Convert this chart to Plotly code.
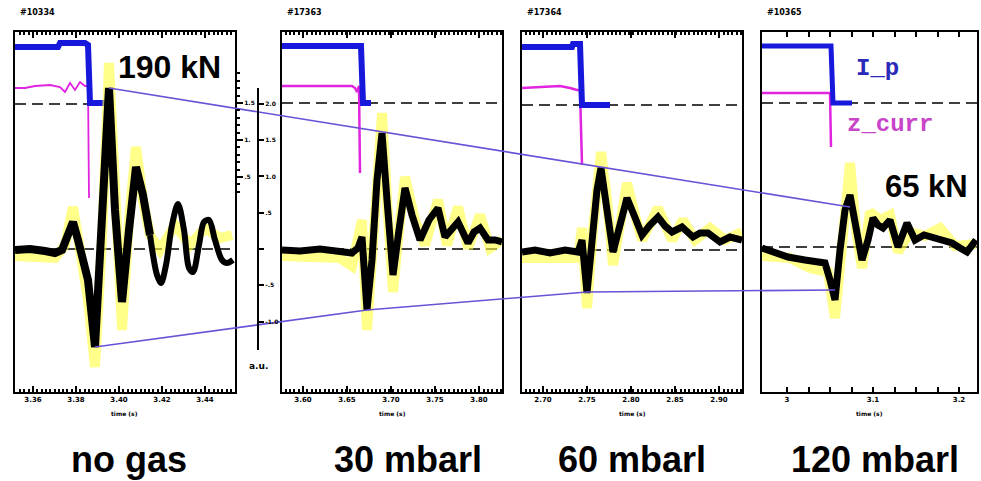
import plotly.graph_objects as go

W, H = 981, 481

# ---------------- data ----------------
conditions = ["no gas", "30 mbarl", "60 mbarl", "120 mbarl"]
shot_ids = ["#10334", "#17363", "#17364", "#10365"]
peak_labels = ["190 kN", "65 kN"]

# vertical force (black), time in ms from window start, value in a.u.
force_t = [
    [0, 15, 30, 40, 47, 53, 58, 63, 67, 73, 80, 85, 89, 94, 100, 107, 114, 121, 128, 135],
    [0, 18, 38, 58, 70, 76, 80, 85, 90, 95, 100, 105, 111, 117, 123, 130, 138, 147, 156, 163, 170, 176, 186, 192, 198, 206, 213, 220],
    [0, 13, 28, 43, 56, 60, 65, 70, 75, 79, 84, 91, 98, 105, 112, 120, 128, 136, 143, 150, 160, 171, 178, 186, 198, 208, 220],
    [0, 13, 26, 43, 53, 63, 68, 73, 78, 83, 88, 94, 100, 106, 111, 116, 121, 128, 136, 145, 153, 162, 170, 180, 190, 198, 205, 214],
]
force_v = [
    [-1, 0, -2, -4, -1, 14, 27, 9, -9, -31, -98, 0, 89, 161, 39, -53, 19, 82, 54, 14],
    [-1, -2, 0, -3, -4, 1, 12, -61, -11, 69, 116, 49, -26, 19, 61, 34, 9, 29, 41, 12, 21, 27, 6, 17, 21, 9, 9, 7],
    [-3, -1, -4, -1, -3, 9, -44, 9, 59, 81, 49, -3, 24, 51, 34, 14, 24, 32, 23, 17, 22, 12, 16, 16, 7, 12, 9],
    [1, -3, -8, -11, -13, -14, -31, -51, -1, 39, 54, 19, -11, 9, 31, 24, 21, 29, 2, 26, 9, 14, 12, 9, 6, 1, -3, 9],
]
# hand-drawn continuation in the first panel
sketch_t = [135, 142, 146, 151, 157, 163, 169, 174, 178, 184, 189, 194, 200, 207, 212, 218]
sketch_v = [14, -26, -34, -16, 24, 45, 19, -19, -23, 4, 27, 29, 9, -11, -14, -11]

# second (yellow) force signal
halo_t = [
    [0, 25, 40, 50, 58, 65, 73, 80, 87, 94, 101, 107, 114, 121, 128, 135, 145, 160, 175, 190, 205, 217],
    [0, 28, 58, 70, 76, 80, 85, 90, 95, 100, 105, 111, 117, 123, 133, 143, 156, 165, 176, 186, 198, 208, 220],
    [0, 28, 56, 60, 65, 71, 79, 85, 91, 98, 105, 113, 120, 136, 150, 161, 173, 188, 203, 220],
    [0, 28, 48, 66, 73, 80, 88, 94, 100, 108, 118, 128, 136, 148, 163, 178, 193, 214],
]
halo_v = [
    [-7, -7, -9, 4, 42, -1, -51, -118, 9, 186, 29, -81, 29, 102, 49, 14, -1, 24, 4, 21, 11, 14],
    [-7, -7, -9, -17, 9, 29, -81, -11, 74, 136, 49, -43, 19, 72, 29, 4, 49, 4, 42, 1, 34, 1, 9],
    [-9, -9, -9, 21, -59, 19, 97, 49, -16, 24, 66, 34, 9, 41, 9, 29, 9, 21, 9, 17],
    [-7, -9, -19, -23, -69, 9, 86, 19, -19, 37, 29, 34, -3, 17, 13, 21, 3, 5],
]

# plasma current I_p (blue)
ip_t = [[0, 43, 45, 70, 73, 75, 90], [0, 79, 81, 89], [0, 50, 51, 58, 60, 88], [0, 69, 71, 90]]
ip_v = [[202, 202, 206, 206, 204, 146, 146], [203, 203, 146, 146], [202, 202, 205, 205, 144, 144], [203, 203, 146, 146]]

# vertical current centroid z_curr (magenta)
zc_t = [[0, 10, 20, 35, 45, 50, 55, 60, 65, 70, 73, 74], [0, 70, 73, 75, 77, 78], [0, 38, 48, 55, 58, 60], [0, 68, 69]]
zc_v = [[161, 161, 163, 164, 162, 157, 166, 159, 167, 163, 163, 51], [163, 163, 161, 157, 163, 76],
        [161, 163, 161, 159, 159, 84], [156, 156, 102]]

# reference levels (dashed)
upper_ref = [145, 146, 144, 146]
upper_ref_end = [80, 220, 220, 215]
lower_ref = [0, 0, -1, 2]

# envelope lines joining the extremes (panel, time, value)
env_top_t = [94, 100, 79, 88]
env_top_v = [161, 117, 82, 42]
env_bot_t = [80, 85, 65, 73]
env_bot_v = [-98, -61, -43, -41]

tick_vals = [[18, 61, 104, 147, 190], [21, 65, 109, 153, 197], [21, 65, 109, 153, 197],
             [25, 47, 68, 90, 111, 133, 154, 176, 197]]
tick_text = [["3.36", "3.38", "3.40", "3.42", "3.44"], ["3.60", "3.65", "3.70", "3.75", "3.80"],
             ["2.70", "2.75", "2.80", "2.85", "2.90"], ["3", "", "", "", "3.1", "", "", "", "3.2"]]

au_vals = [-1, -0.5, 0, 0.5, 1, 1.5, 2]
au_text = ["-1.0", "-.5", "", ".5", "1.0", "1.5", "2.0"]
ipax_vals = [0.5, 1.0, 1.5]
ipax_text = [".5", "1.", "1.5"]

# ---------------- layout geometry ----------------
PANEL_PX = [(15, 235), (282, 502), (522, 742), (762, 977)]
TOP_PX, BOT_PX = 32, 392
Y_RANGE = [-143, 217]
X_RANGES = [[0, r - l] for l, r in PANEL_PX]

BLACK = "#000000"
BLUE = "#1818dc"
MAGENTA = "#e024e0"
PURPLE = "#6a52d6"
YELLOW = "rgba(255,255,60,0.6)"


def to_px(i, t, v):
    l, r = PANEL_PX[i]
    x0, x1 = X_RANGES[i]
    px = l + (t - x0) / (x1 - x0) * (r - l)
    py = BOT_PX - (v - Y_RANGE[0]) / (Y_RANGE[1] - Y_RANGE[0]) * (BOT_PX - TOP_PX)
    return px, py


fig = go.Figure()


def ax(i):
    return ("x", "y") if i == 0 else (f"x{i+1}", f"y{i+1}")


for i in range(4):
    xa, ya = ax(i)
    common = dict(xaxis=xa, yaxis=ya, mode="lines", showlegend=False, hoverinfo="skip")
    fig.add_trace(go.Scatter(x=[0, upper_ref_end[i]], y=[upper_ref[i]] * 2,
                             line=dict(color=BLACK, width=1.6, dash="11px,6px"), **common))
    fig.add_trace(go.Scatter(x=[0, X_RANGES[i][1]], y=[lower_ref[i]] * 2,
                             line=dict(color=BLACK, width=1.6, dash="11px,6px"), **common))
    fig.add_trace(go.Scatter(x=zc_t[i], y=zc_v[i], line=dict(color=MAGENTA, width=2.5 if i else 1.8), **common))
    fig.add_trace(go.Scatter(x=ip_t[i], y=ip_v[i], line=dict(color=BLUE, width=6 if i < 3 else 5), **common))
    fig.add_trace(go.Scatter(x=halo_t[i], y=halo_v[i], line=dict(color=YELLOW, width=10), **common))
    fig.add_trace(go.Scatter(x=force_t[i], y=force_v[i], line=dict(color=BLACK, width=8 if i == 0 else 7), **common))
    if i == 0:
        fig.add_trace(go.Scatter(x=sketch_t, y=sketch_v, line=dict(color=BLACK, width=6, shape="spline", smoothing=0.9),
                                 **common))

# envelope lines on a full-page overlay axis
top_px = [to_px(i, t, v) for i, (t, v) in enumerate(zip(env_top_t, env_top_v))]
bot_px = [to_px(i, t, v) for i, (t, v) in enumerate(zip(env_bot_t, env_bot_v))]
for pts in (top_px, bot_px):
    fig.add_trace(go.Scatter(x=[p[0] for p in pts], y=[p[1] for p in pts], xaxis="x5", yaxis="y5",
                             mode="lines", line=dict(color=PURPLE, width=1.6), showlegend=False, hoverinfo="skip"))

# dummy traces for the free-standing axes
for k, yv in ((6, 0.5), (7, 1.0)):
    fig.add_trace(go.Scatter(x=[0], y=[yv], xaxis=f"x{k}", yaxis=f"y{k}", mode="markers",
                             marker=dict(opacity=0), showlegend=False, hoverinfo="skip"))

layout = dict(width=W, height=H, margin=dict(l=0, r=0, t=0, b=0, pad=0),
              paper_bgcolor="white", plot_bgcolor="rgba(0,0,0,0)", showlegend=False)
ydom = [1 - BOT_PX / H, 1 - TOP_PX / H]
for i in range(4):
    l, r = PANEL_PX[i]
    kx = "xaxis" if i == 0 else f"xaxis{i+1}"
    ky = "yaxis" if i == 0 else f"yaxis{i+1}"
    xa, ya = ax(i)
    minor = dict(ticks="inside", ticklen=3, tickcolor=BLACK, tick0=tick_vals[i][0], dtick=4.3) if i < 3 else None
    xd = dict(domain=[l / W, r / W], range=X_RANGES[i], anchor=ya, showline=True, linecolor=BLACK, linewidth=2,
              mirror="ticks", ticks="inside", ticklen=6 if i < 3 else 5, tickwidth=1.5, tickcolor=BLACK,
              tickmode="array", tickvals=tick_vals[i], ticktext=tick_text[i],
              tickfont=dict(size=7, color=BLACK, family="DejaVu Sans", weight="bold"),
              showgrid=False, zeroline=False, fixedrange=True)
    if minor:
        xd["minor"] = minor
    layout[kx] = xd
    layout[ky] = dict(domain=ydom, range=Y_RANGE, anchor=xa, showline=True, linecolor=BLACK, linewidth=2,
                      mirror=True, ticks="", showticklabels=False, showgrid=False, zeroline=False, fixedrange=True)

layout["xaxis5"] = dict(domain=[0, 1], range=[0, W], anchor="y5", visible=False, fixedrange=True)
layout["yaxis5"] = dict(domain=[0, 1], range=[H, 0], anchor="x5", visible=False, fixedrange=True)

layout["xaxis6"] = dict(domain=[0.255, 0.27], anchor="y6", visible=False, range=[-1, 1])
layout["yaxis6"] = dict(domain=[1 - 350 / H, 1 - 88 / H], range=[-(350 - 249) / 72.6, (249 - 88) / 72.6],
                        anchor="free", position=258 / W, side="right", showline=True, linecolor=BLACK,
                        linewidth=2, ticks="outside", ticklen=5, tickwidth=2, tickcolor=BLACK,
                        tickmode="array", tickvals=au_vals, ticktext=au_text,
                        tickfont=dict(size=6, color=BLACK, family="DejaVu Sans", weight="bold"),
                        showgrid=False, zeroline=False)
layout["xaxis7"] = dict(domain=[0.23, 0.24], anchor="y7", visible=False, range=[-1, 1])
layout["yaxis7"] = dict(domain=[1 - 197 / H, 1 - 73 / H], range=[0.5 - 20 / 74, 1.5 + 30 / 74],
                        anchor="free", position=236 / W, side="right", showline=False,
                        ticks="outside", ticklen=6, tickwidth=2, tickcolor=BLACK,
                        tickmode="array", tickvals=ipax_vals, ticktext=ipax_text,
                        minor=dict(ticks="outside", ticklen=3, tickcolor=BLACK, tick0=0, dtick=0.1),
                        tickfont=dict(size=6, color=BLACK, family="DejaVu Sans", weight="bold"),
                        showgrid=False, zeroline=False)

fig.update_layout(**layout)

ann = []
bottom_cx = [129, 408, 632, 875]
for i in range(4):
    l, r = PANEL_PX[i]
    ann.append(dict(x=(l + 3) / W, y=1 - 13 / H, xref="paper", yref="paper", xanchor="left", yanchor="middle",
                    text=shot_ids[i], showarrow=False,
                    font=dict(size=8, color=BLACK, family="DejaVu Sans", weight="bold")))
    ann.append(dict(x=(l + r) / 2 / W, y=1 - 413 / H, xref="paper", yref="paper", xanchor="center",
                    yanchor="middle", text="time (s)", showarrow=False,
                    font=dict(size=6, color=BLACK, family="DejaVu Sans", weight="bold")))
    ann.append(dict(x=bottom_cx[i] / W, y=1 - 459 / H, xref="paper", yref="paper", xanchor="center",
                    yanchor="middle", text=conditions[i], showarrow=False, borderpad=0,
                    font=dict(size=36, color=BLACK, family="Liberation Sans", weight="bold")))
ann.append(dict(x=169.5 / W, y=1 - 67 / H, xref="paper", yref="paper", xanchor="center", yanchor="middle",
                text=peak_labels[0], showarrow=False,
                font=dict(size=32, color=BLACK, family="Liberation Sans", weight="bold")))
ann.append(dict(x=926 / W, y=1 - 186 / H, xref="paper", yref="paper", xanchor="center", yanchor="middle",
                text=peak_labels[1], showarrow=False,
                font=dict(size=31, color=BLACK, family="Liberation Sans", weight="bold")))
ann.append(dict(x=877 / W, y=1 - 69 / H, xref="paper", yref="paper", xanchor="center", yanchor="middle",
                text="I_p", showarrow=False,
                font=dict(size=24, color="#2a2ab8", family="Liberation Mono", weight="bold")))
ann.append(dict(x=890 / W, y=1 - 124 / H, xref="paper", yref="paper", xanchor="center", yanchor="middle",
                text="z_curr", showarrow=False,
                font=dict(size=24, color="#c844c8", family="Liberation Mono", weight="bold")))
ann.append(dict(x=258 / W, y=1 - 366 / H, xref="paper", yref="paper", xanchor="center", yanchor="middle",
                text="a.u.", showarrow=False,
                font=dict(size=9, color=BLACK, family="DejaVu Sans", weight="bold")))
fig.update_layout(annotations=ann)

fig.write_html("out.html", config={"displayModeBar": False},
               post_script="document.body.style.margin='0';document.body.style.overflow='hidden';")
